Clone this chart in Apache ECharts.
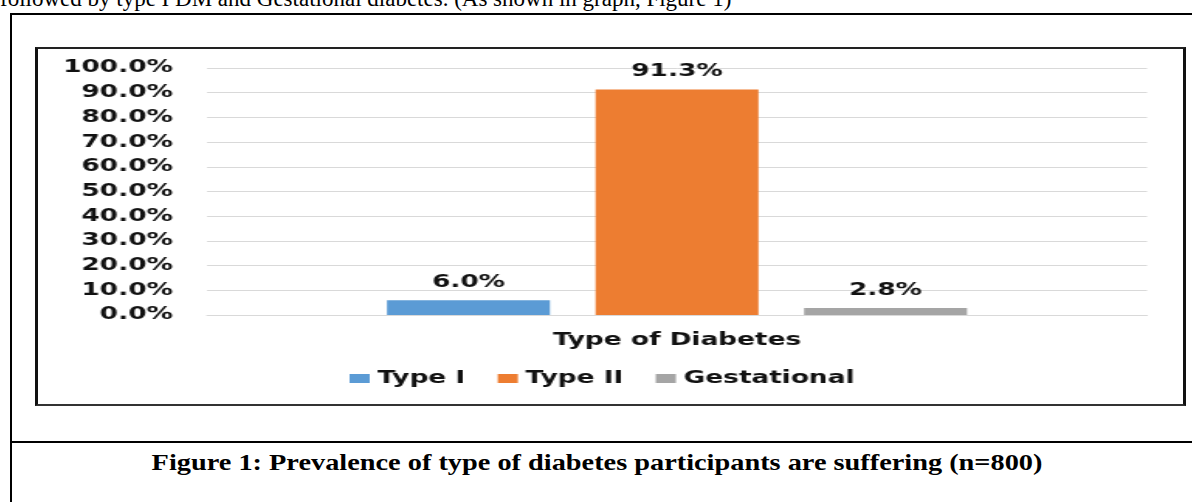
<!DOCTYPE html>
<html>
<head>
<meta charset="utf-8">
<script src="https://cdn.jsdelivr.net/npm/echarts@6/dist/echarts.min.js"></script>
<style>
  html, body { margin: 0; padding: 0; background: #fff; }
  body { width: 1192px; height: 502px; position: relative; overflow: hidden; }
  #lead {
    position: absolute; left: 0; top: -14px; white-space: nowrap;
    font-family: "Liberation Serif", "Times New Roman", serif; font-size: 23px; color: #000;
  }
  #frame {
    position: absolute; left: 10px; top: 13px; width: 1200px; height: 520px;
    border-left: 2px solid #000; border-top: 2px solid #000; box-sizing: border-box;
  }
  #rule {
    position: absolute; left: 10px; top: 441px; width: 1200px; height: 2px; background: #000;
  }
  #box {
    position: absolute; left: 35px; top: 47px; width: 1151px; height: 359px; box-sizing: border-box;
    border-left: 3px solid #111; border-right: 3px solid #111;
    border-top: 2px solid #222; border-bottom: 2px solid #333; overflow: hidden;
  }
  #chart {
    position: absolute; left: 0; top: 0; width: 739px; height: 355px;
    transform: scaleX(1.55); transform-origin: 0 0;
  }
  #caption {
    position: absolute; left: 597px; top: 449px; white-space: nowrap;
    transform: translateX(-50%) scaleX(1.18); transform-origin: 50% 0;
    font-family: "Liberation Serif", "Times New Roman", serif; font-weight: bold; font-size: 24px; color: #000;
  }
</style>
</head>
<body>
<div id="lead">followed by type I DM and Gestational diabetes. (As shown in graph, Figure 1)</div>
<div id="frame"></div>
<div id="rule"></div>
<div id="box"><div id="chart"></div></div>
<div id="caption">Figure 1: Prevalence of type of diabetes participants are suffering (n=800)</div>
<script>
// Share of participants (%) by type of diabetes
const categories = ['Type of Diabetes'];
const seriesNames = ['Type I', 'Type II', 'Gestational'];
const typeI = [6.0];
const typeII = [91.3];
const gestational = [2.8];
const yTicks = [0, 10, 20, 30, 40, 50, 60, 70, 80, 90, 100];

const colors = ['#5B9BD5', '#ED7D31', '#A5A5A5'];
const font = '"DejaVu Sans", Verdana, sans-serif';
const textColor = '#111';
const pct = v => Number(v).toFixed(1) + '%';

const chart = echarts.init(document.getElementById('chart'), null, { renderer: 'canvas' });

function barSeries(name, data, color) {
  return {
    name: name,
    type: 'bar',
    data: data,
    itemStyle: { color: color },
    barGap: '28%',
    barCategoryGap: '38.3%',
    label: {
      show: true,
      position: 'top',
      distance: 9,
      formatter: p => pct(p.value),
      color: textColor,
      fontFamily: font,
      fontWeight: 'bold',
      fontSize: 17
    }
  };
}

chart.setOption({
  animation: false,
  color: colors,
  grid: { left: 109, right: 23.5, top: 19, bottom: 89, containLabel: false },
  xAxis: {
    type: 'category',
    data: categories,
    axisLine: { show: true, lineStyle: { color: '#d9d9d9', width: 1 } },
    axisTick: { show: false },
    axisLabel: {
      margin: 17,
      color: textColor,
      fontFamily: font,
      fontWeight: 'bold',
      fontSize: 17
    }
  },
  yAxis: {
    type: 'value',
    min: yTicks[0],
    max: yTicks[yTicks.length - 1],
    interval: yTicks[1] - yTicks[0],
    axisLine: { show: false },
    axisTick: { show: false },
    splitLine: { lineStyle: { color: '#d9d9d9', width: 1 } },
    axisLabel: {
      margin: 22,
      formatter: v => pct(v),
      color: textColor,
      fontFamily: font,
      fontWeight: 'bold',
      fontSize: 17
    }
  },
  legend: {
    data: seriesNames,
    left: 201,
    top: 321,
    padding: 0,
    icon: 'rect',
    itemWidth: 13,
    itemHeight: 9,
    itemGap: 21,
    textStyle: {
      color: textColor,
      fontFamily: font,
      fontWeight: 'bold',
      fontSize: 17
    }
  },
  series: [
    barSeries(seriesNames[0], typeI, colors[0]),
    barSeries(seriesNames[1], typeII, colors[1]),
    barSeries(seriesNames[2], gestational, colors[2])
  ]
});
</script>
</body>
</html>
